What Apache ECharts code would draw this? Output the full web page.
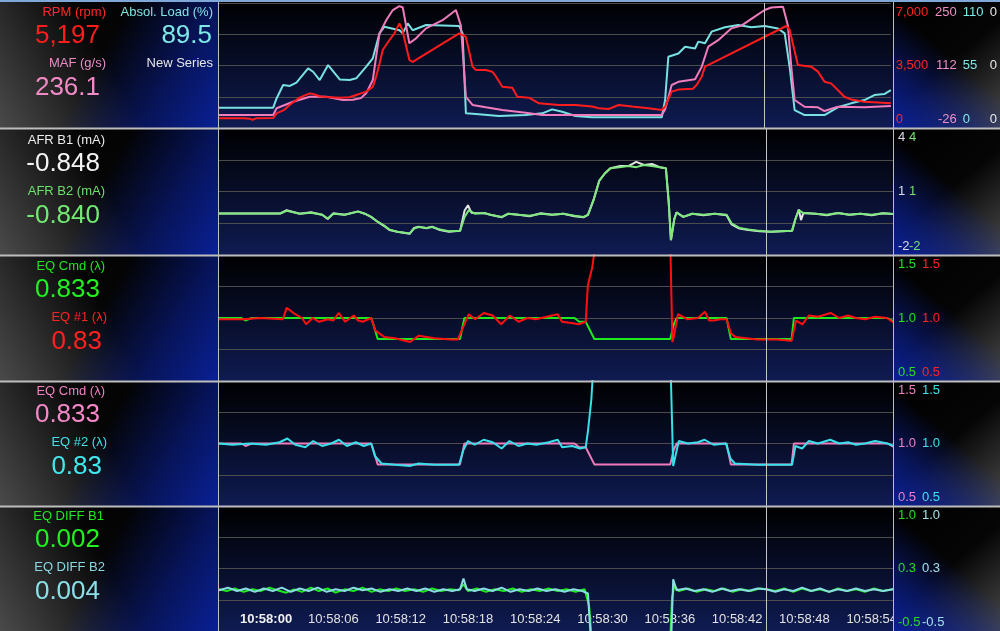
<!DOCTYPE html>
<html><head><meta charset="utf-8">
<script src="https://cdn.jsdelivr.net/npm/echarts@6/dist/echarts.min.js"></script>
<style>html,body{margin:0;padding:0;background:#000;}#c{width:1000px;height:631px;}</style>
</head><body><div id="c"></div>
<script>
// ---------------- DATA ----------------
const timeTicks = [0, 6, 12, 18, 24, 30, 36, 42, 48, 54];
const timeLabels = ['10:58:00','10:58:06','10:58:12','10:58:18','10:58:24','10:58:30','10:58:36','10:58:42','10:58:48','10:58:54'];
const cursorT = 44.56;

// Panel 1
const rpm = [[-4.2,540],[-2.0,545],[-1.43,520],[-1.2,450],[-0.9,540],[0.65,560],[0.95,820],[1.6,1000],[2.14,1300],[3.0,1700],[3.92,1940],[4.22,1900],[4.81,1780],[5.41,1740],[6.6,1700],[7.49,1720],[8.08,1850],[8.97,2035],[9.56,2300],[9.86,2875],[10.16,3600],[10.45,4368],[11.05,4928],[11.5,5300],[11.94,5861],[12.2,5500],[12.83,3808],[13.13,3700],[17.29,5301],[17.59,5200],[17.89,5100],[18.48,3435],[18.78,3248],[19.67,3248],[20.26,3150],[20.56,2900],[21.15,2315],[22.04,2250],[22.49,1752],[23.53,1700],[24.42,1381],[26.2,1288],[27.69,1288],[29.17,1200],[29.77,1101],[30.66,1064],[31.55,1288],[32.74,1200],[34.22,1100],[35.41,1008],[35.71,1200],[36.3,2035],[36.9,2150],[38.2,2200],[38.53,2408],[38.98,2875],[39.28,3435],[46.55,5712],[46.85,5500],[47.59,3528],[48.78,3435],[49.38,3155],[49.97,2595],[50.56,2500],[51.16,2128],[51.75,1752],[52.35,1600],[53.54,1475],[55.91,1381]];
const maf = [[-4.2,2.7],[0.65,2.7],[0.95,17.5],[2.43,32],[3.92,43],[5.41,43],[6.89,35.8],[7.78,36.5],[8.5,40],[8.97,50.6],[9.56,80],[10.16,183],[10.76,212],[11.35,234.5],[11.94,243],[12.24,240],[12.83,161],[13.43,172],[14.32,194],[15.8,212],[17.0,234.5],[17.44,200],[17.89,43],[18.48,24.8],[19.67,19.7],[21.15,13.7],[23.23,7.8],[24.72,2.5],[29.77,2.7],[35.41,2.7],[35.71,15],[36.3,69],[36.9,76],[38.39,81.5],[38.98,109],[39.57,153.5],[40.46,168],[41.65,194],[42.54,200],[43.73,220],[44.62,234.5],[45.21,240],[46.26,241.7],[46.7,200],[47.0,109],[47.3,35.8],[48.19,21],[49.38,19.7],[49.97,11.5],[51.16,21],[53.54,19.7],[55.91,22.6]];
const load = [[-4.2,17.9],[0.65,17.9],[0.95,26],[1.54,37.8],[2.14,37],[2.73,40],[3.77,52.5],[4.22,49.5],[4.81,42.2],[5.56,55.4],[6.6,42.7],[7.49,42.2],[8.08,43.7],[8.97,54],[9.56,61.3],[10.16,83.3],[10.6,89.1],[11.94,86],[12.24,83.3],[12.68,92.1],[13.13,86],[14.32,90.6],[17.29,89.7],[17.59,83.3],[17.89,12.9],[18.78,12.3],[20.86,10.6],[23.23,11.4],[24.72,12.9],[25.6,16.4],[26.5,14.3],[27.69,10.6],[29.17,9.4],[35.41,9.4],[35.71,24.6],[36.0,62.7],[36.9,65.6],[37.5,71.5],[38.39,70],[38.68,76],[39.28,74.5],[39.87,84.8],[41.06,88.7],[42.25,90.6],[43.43,88.7],[44.62,89.8],[45.81,87.6],[46.41,83.3],[46.85,53.9],[47.3,15.8],[48.19,11.4],[49.97,11.4],[51.16,18.2],[52.35,21.7],[53.54,24.6],[54.43,29],[55.32,29.9],[55.91,33.4]];

// Panel 2
const afrB1 = [[-4.2,-0.04],[1.25,-0.04],[1.83,0.12],[3.0,-0.05],[4.0,0.02],[5.0,-0.1],[5.5,-0.3],[6.0,-0.03],[7.0,-0.1],[8.2,0.06],[8.8,-0.05],[9.36,-0.2],[10.0,-0.45],[10.5,-0.62],[11.0,-0.82],[11.7,-0.9],[12.8,-1.0],[13.2,-0.72],[13.6,-0.66],[14.3,-0.74],[14.8,-0.66],[15.5,-0.82],[16.3,-0.9],[17.3,-0.86],[17.7,0.1],[18.0,0.35],[18.3,0.0],[18.6,-0.02],[19.5,-0.03],[20.0,-0.1],[21.0,-0.22],[21.6,-0.05],[22.5,-0.1],[23.5,-0.17],[24.5,-0.03],[25.5,-0.1],[26.5,-0.05],[27.5,-0.17],[28.3,-0.22],[28.7,-0.1],[29.2,0.6],[29.7,1.5],[30.2,1.85],[30.7,2.1],[31.5,2.2],[32.3,2.2],[33.0,2.4],[33.7,2.25],[34.4,2.3],[35.1,2.15],[35.65,2.1],[35.9,0.5],[36.1,-1.3],[36.4,-0.3],[36.6,0.02],[37.2,-0.2],[38,-0.05],[39,-0.12],[40,-0.05],[41.06,-0.12],[41.5,-0.55],[42.2,-0.75],[43,-0.82],[44,-0.88],[45,-0.9],[46.9,-0.86],[47.2,-0.3],[47.5,0.15],[47.7,-0.35],[47.9,-0.02],[49,-0.05],[50,-0.12],[51,-0.02],[52,-0.1],[53,-0.05],[54,-0.12],[55,-0.03],[55.9,-0.06]];
const afrB2 = [[-4.2,-0.04],[1.25,-0.04],[1.83,0.09],[3.0,-0.05],[4.0,0.0],[5.0,-0.1],[5.5,-0.28],[6.0,-0.05],[7.0,-0.1],[8.2,0.05],[8.8,-0.05],[9.36,-0.2],[10.0,-0.45],[10.5,-0.6],[11.0,-0.8],[11.7,-0.9],[12.8,-0.98],[13.2,-0.75],[13.6,-0.68],[14.3,-0.72],[14.8,-0.68],[15.5,-0.8],[16.3,-0.88],[17.3,-0.85],[17.7,-0.2],[18.07,0.12],[18.6,-0.05],[19.5,-0.02],[20.0,-0.1],[21.0,-0.2],[21.6,-0.05],[22.5,-0.1],[23.5,-0.15],[24.5,-0.05],[25.5,-0.1],[26.5,-0.05],[27.5,-0.15],[28.3,-0.2],[28.7,-0.1],[29.2,0.6],[29.7,1.5],[30.2,1.85],[30.7,2.1],[31.5,2.15],[32.3,2.2],[33.0,2.15],[33.7,2.25],[34.4,2.2],[35.1,2.15],[35.65,2.1],[35.9,0.5],[36.1,-1.3],[36.4,-0.3],[36.6,0.0],[37.2,-0.2],[38,-0.05],[39,-0.1],[40,-0.05],[41.06,-0.1],[41.5,-0.5],[42.2,-0.72],[43,-0.8],[44,-0.86],[45,-0.9],[46.9,-0.85],[47.2,-0.3],[47.5,0.12],[47.9,-0.02],[49,-0.05],[50,-0.1],[51,-0.02],[52,-0.1],[53,-0.05],[54,-0.1],[55,-0.03],[55.9,-0.06]];

// Panels 3 & 4
const eqCmd = [[-4.2,1.0],[-2.2,1.0],[-1.84,0.98],[-1.3,1.0],[9.37,1.0],[9.56,0.95],[9.95,0.833],[17.29,0.833],[17.68,1.0],[27.5,1.0],[27.92,0.97],[28.5,0.97],[29.27,0.833],[36.04,0.833],[36.35,0.95],[36.61,1.0],[41.06,1.0],[41.44,0.833],[46.86,0.833],[47.06,1.0],[55.4,1.0],[56,0.97]];
const eq1 = [[-4.2,0.99],[-2,0.99],[-0.5,1.0],[1.5,0.99],[1.83,1.08],[2.6,1.03],[3.2,1.0],[3.57,0.95],[4.15,1.0],[4.73,0.97],[5.5,0.99],[6.0,0.98],[6.47,1.04],[7.05,0.97],[7.82,1.02],[8.2,0.98],[8.6,0.97],[9.37,1.0],[9.75,0.9],[10.53,0.85],[11.5,0.84],[12.84,0.81],[13.62,0.86],[15,0.84],[16.5,0.83],[17.1,0.83],[17.68,0.95],[18.07,1.03],[18.64,0.99],[19.42,1.04],[20.2,1.02],[20.96,0.95],[21.74,1.02],[22.51,0.97],[23.3,1.0],[24.06,0.99],[25.99,1.03],[26.38,0.97],[27.2,0.96],[27.92,0.95],[28.5,0.97],[28.69,1.26],[29.08,1.4],[29.39,1.6],[29.6,2.2],[35.9,2.5],[36.04,1.6],[36.23,0.81],[36.35,0.85],[36.73,1.03],[37.58,0.99],[38.5,1.0],[39.13,1.05],[39.5,0.98],[39.9,0.98],[40.5,0.99],[41.06,0.99],[41.44,0.88],[41.84,0.85],[43.77,0.83],[45.5,0.83],[46.86,0.82],[47.25,0.98],[47.82,0.95],[48.4,1.02],[49.2,1.01],[50.34,1.04],[51.1,1.0],[51.88,1.02],[52.6,1.0],[53.43,0.99],[54.3,1.01],[55.37,1.0],[56,0.96]];
const eq2 = [[-4.2,1.0],[-3,0.99],[-1.5,1.0],[0,0.99],[1.2,1.01],[1.9,1.04],[2.6,0.99],[3.5,0.97],[4.2,1.02],[5.0,0.98],[5.8,1.0],[6.5,1.03],[7.2,0.98],[8.0,1.01],[8.7,0.98],[9.37,1.0],[9.7,0.9],[10.3,0.84],[11.5,0.83],[12.8,0.82],[13.6,0.84],[15,0.83],[16.5,0.83],[17.2,0.83],[17.6,0.95],[18.0,1.02],[18.6,0.99],[19.4,1.03],[20.2,1.01],[21.0,0.96],[21.7,1.02],[22.5,0.98],[23.3,1.0],[24.1,0.99],[25.2,1.01],[26.0,1.03],[26.4,0.97],[27.3,0.98],[28.0,0.96],[28.5,0.97],[28.7,1.1],[29.0,1.35],[29.3,1.8],[35.9,2.5],[36.1,1.5],[36.3,0.82],[36.5,0.9],[36.8,1.02],[37.6,1.0],[38.5,1.01],[39.1,1.03],[39.9,0.99],[41.0,1.0],[41.4,0.88],[41.8,0.84],[43.8,0.83],[45.5,0.83],[46.9,0.83],[47.2,0.98],[47.8,0.96],[48.4,1.02],[49.2,1.0],[50.3,1.03],[51.1,1.0],[51.9,1.01],[52.6,0.99],[53.4,1.0],[54.3,1.02],[55.4,1.0],[56,0.98]];

// Panel 5
const diffB1 = [[-4.2,0.0],[-3.5,-0.02],[-2.8,0.01],[-2,-0.03],[-1.2,0.0],[-0.5,-0.02],[0.3,0.02],[1.0,-0.01],[1.8,-0.04],[2.5,0.0],[3.2,-0.03],[4.0,0.02],[4.7,-0.02],[5.5,0.01],[6.2,-0.04],[7.0,0.0],[7.8,-0.02],[8.6,0.02],[9.4,-0.03],[10.1,0.0],[10.9,-0.02],[11.6,0.01],[12.4,-0.02],[13.2,0.0],[14.0,-0.03],[14.8,0.01],[15.6,-0.02],[16.4,0.0],[17.2,-0.01],[17.6,0.06],[18.0,-0.02],[18.8,0.01],[19.6,-0.03],[20.4,0.0],[21.2,-0.02],[22.0,0.01],[22.8,-0.03],[23.6,0.0],[24.4,-0.02],[25.2,0.01],[26.0,-0.02],[26.8,0.0],[27.6,-0.03],[28.4,0.0],[28.8,-0.2],[29.1,-0.7],[36.0,-0.7],[36.2,-0.1],[36.4,0.04],[36.8,-0.02],[37.6,0.01],[38.4,-0.03],[39.2,0.0],[40.0,-0.02],[40.8,0.01],[41.6,-0.03],[42.4,0.0],[43.2,-0.02],[44.0,0.01],[44.6,0.0],[45.4,-0.02],[46.2,0.01],[47.0,-0.03],[47.8,0.01],[48.6,-0.02],[49.4,0.0],[50.2,-0.03],[51.0,0.01],[51.8,-0.02],[52.6,0.0],[53.4,-0.03],[54.2,0.01],[55.0,-0.02],[55.9,0.0]];
const diffB2 = [[-4.2,-0.01],[-3.4,0.02],[-2.6,-0.02],[-1.8,0.01],[-1.0,-0.03],[-0.2,0.01],[0.6,-0.02],[1.4,0.02],[2.2,-0.03],[3.0,0.01],[3.8,-0.02],[4.6,0.02],[5.4,-0.03],[6.2,0.0],[7.0,-0.02],[7.8,0.02],[8.6,-0.01],[9.4,0.01],[10.2,-0.03],[11.0,0.0],[11.8,-0.02],[12.6,0.01],[13.4,-0.02],[14.2,0.01],[15.0,-0.03],[15.8,0.0],[16.6,-0.02],[17.3,0.0],[17.6,0.13],[17.9,0.0],[18.6,-0.02],[19.4,0.01],[20.2,-0.02],[21.0,0.02],[21.8,-0.03],[22.6,0.0],[23.4,-0.02],[24.2,0.01],[25.0,-0.02],[25.8,0.0],[26.6,-0.03],[27.4,0.0],[28.2,-0.02],[28.7,-0.05],[29.0,-0.7],[36.1,-0.7],[36.3,0.12],[36.6,-0.01],[37.4,0.01],[38.2,-0.02],[39.0,0.0],[39.8,-0.03],[40.6,0.01],[41.4,-0.02],[42.2,0.0],[43.0,-0.02],[43.8,0.01],[44.6,0.0],[45.4,-0.03],[46.2,0.0],[47.0,-0.02],[47.8,0.02],[48.6,-0.02],[49.4,0.01],[50.2,-0.03],[51.0,0.0],[51.8,-0.02],[52.6,0.01],[53.4,-0.02],[54.2,0.0],[55.0,-0.02],[55.9,0.0]];

// Axis tick labels (min, mid, max)
const rpmTicks = ['0','3,500','7,000'];
const mafTicks = ['-26','112','250'];
const loadTicks = ['0','55','110'];
const newSeriesTicks = ['0','0','0'];
const afrTicks = ['-2','1','4'];
const eqTicks = ['0.5','1.0','1.5'];
const diffTicks = ['-0.5','0.3','1.0'];

// Left readouts (name, current value)
const readoutNames = [['RPM (rpm)','MAF (g/s)','Absol. Load (%)','New Series'],['AFR B1 (mA)','AFR B2 (mA)'],['EQ Cmd (λ)','EQ #1 (λ)'],['EQ Cmd (λ)','EQ #2 (λ)'],['EQ DIFF B1','EQ DIFF B2']];
const readoutValues = [['5,197','236.1','89.5',''],['-0.848','-0.840'],['0.833','0.83'],['0.833','0.83'],['0.002','0.004']];

// ---------------- STYLE / LAYOUT ----------------
const FONT = '"Liberation Sans", Arial, sans-serif';
const C = {red:'#ff1c1c', pink:'#f07cbc', cyan:'#78e2e2', white:'#e8e8e8', lgreen:'#7ee87e', green:'#1ee81e', cyan2:'#38e0ea', cyan3:'#8adce4'};
const rows = [[3,128],[128,255],[255,381],[381,506],[506,631]];
const plotL = 219, plotR = 893, xMin = -4.2, xMax = 55.9;

const chart = echarts.init(document.getElementById('c'), null, {renderer:'canvas'});

const grids = rows.map(r => ({left:plotL, top:r[0], width:plotR-plotL, height:r[1]-r[0]}));
const xAxes = rows.map((r,i) => ({
  type:'value', gridIndex:i, min:xMin, max:xMax, show: i===4, z:0,
  axisLine:{show:false}, axisTick:{show:false}, splitLine:{show:false},
  axisLabel: i===4 ? {
    show:true, inside:true, margin:5, customValues: timeTicks, hideOverlap:false,
    color:'#e2e2e2', fontSize:13, fontFamily:FONT,
    formatter: v => { const k = timeTicks.indexOf(Math.round(v)); return k === 0 ? '{b|' + timeLabels[k] + '}' : (k >= 0 ? timeLabels[k] : ''); },
    rich:{b:{fontWeight:'bold', color:'#f0f0f0', fontSize:13, fontFamily:FONT}}
  } : {show:false}
}));

const yAxes = [];
function splitAxis(g){
  yAxes.push({type:'value', gridIndex:g, min:0, max:4, interval:1, position:'left',
    axisLine:{show:false}, axisTick:{show:false}, axisLabel:{show:false},
    splitLine:{show:true, lineStyle:{color:'#4c4c4c', width:1}}});
  return yAxes.length-1;
}
function labelAxis(g, min, max, labels, color, margin, align){
  const interval = (max-min)/2;
  yAxes.push({type:'value', gridIndex:g, min:min, max:max, interval:interval, position:'right', offset:0, z:10,
    axisLine:{show:false}, axisTick:{show:false}, splitLine:{show:false},
    axisLabel:{show:true, color:color, fontSize:13, fontFamily:FONT, margin:margin, align:align||'left',
      lineHeight:18, verticalAlignMinLabel:'bottom', verticalAlignMaxLabel:'top', showMinLabel:true, showMaxLabel:true,
      formatter:(v)=> labels[Math.round((v-min)/interval)] ?? ''}});
  return yAxes.length-1;
}
const series = [];
function line(g, yi, data, color, withCursor){
  const s = {type:'line', xAxisIndex:g, yAxisIndex:yi, data:data, symbol:'none', showSymbol:false,
    lineStyle:{color:color, width:2}, clip:true, z:3, animation:false, silent:true};
  if (withCursor) s.markLine = {silent:true, symbol:'none', label:{show:false}, animation:false,
    lineStyle:{color:'#c4c4c4', width:1, type:'solid'}, data:[{xAxis:cursorT}]};
  series.push(s);
}

// Row 1
splitAxis(0);
const aR = labelAxis(0, 0, 7000, rpmTicks, '#ff2424', 5);
const aM = labelAxis(0, -26, 250, mafTicks, '#f08ec6', 66, 'right');
const aL = labelAxis(0, 0, 110, loadTicks, '#82e6e6', 72);
labelAxis(0, 0, 1, newSeriesTicks, '#e8e8e8', 99);
line(0, aL, load, C.cyan, true);
line(0, aM, maf, C.pink, false);
line(0, aR, rpm, C.red, false);
// Row 2
splitAxis(1);
const a21 = labelAxis(1, -2, 4, afrTicks, '#dcdcec', 5);
const a22 = labelAxis(1, -2, 4, afrTicks, '#72e072', 16);
line(1, a21, afrB1, '#e4e4e4', true);
line(1, a22, afrB2, C.lgreen, false);
// Row 3
splitAxis(2);
const a31 = labelAxis(2, 0.5, 1.5, eqTicks, '#22e022', 5);
const a32 = labelAxis(2, 0.5, 1.5, eqTicks, '#ff2424', 29);
line(2, a31, eqCmd, C.green, true);
line(2, a32, eq1, '#ff1010', false);
// Row 4
splitAxis(3);
const a41 = labelAxis(3, 0.5, 1.5, eqTicks, '#f080c0', 5);
const a42 = labelAxis(3, 0.5, 1.5, eqTicks, '#3ee0ea', 29);
line(3, a41, eqCmd, C.pink, true);
line(3, a42, eq2, C.cyan2, false);
// Row 5
splitAxis(4);
const a51 = labelAxis(4, -0.5, 1.0, diffTicks, '#22e022', 5);
const a52 = labelAxis(4, -0.5, 1.0, diffTicks, '#a4e2ea', 29);
line(4, a51, diffB1, C.green, true);
line(4, a52, diffB2, C.cyan3, false);

// ---------------- CHROME (backgrounds, separators, readouts) ----------------
const G = echarts.graphic;
const elements = [];
const grayStops = [{offset:0,color:'#4a4a4a'},{offset:0.22,color:'#2c2c2c'},{offset:0.5,color:'#050505'},{offset:1,color:'#000000'}];
const blueStops = [{offset:0,color:'rgba(10,32,150,1)'},{offset:0.25,color:'rgba(10,32,150,0.6)'},{offset:0.55,color:'rgba(10,32,150,0)'},{offset:1,color:'rgba(10,32,150,0)'}];
rows.forEach((r,i) => {
  const top = i===0 ? 0 : r[0], h = r[1]-top;
  elements.push({type:'rect', z:-10, shape:{x:0,y:top,width:218,height:h}, style:{fill:new G.LinearGradient(0,1,1,0,grayStops)}});
  elements.push({type:'rect', z:-9, shape:{x:0,y:top,width:218,height:h}, style:{fill:new G.LinearGradient(1,1,0,0,blueStops)}});
  elements.push({type:'rect', z:-10, shape:{x:plotL,y:top,width:plotR-plotL,height:h}, style:{fill:new G.LinearGradient(0,0,0,1,[{offset:0,color:'#000000'},{offset:1,color:'#0f1b52'}])}});
  elements.push({type:'rect', z:5, shape:{x:894,y:top,width:106,height:h}, style:{fill:new G.LinearGradient(1,1,0,0,grayStops)}});
  elements.push({type:'rect', z:6, shape:{x:894,y:top,width:106,height:h}, style:{fill:new G.LinearGradient(0,1,1,0,blueStops)}});
});
[128,255,381,506].forEach(y => elements.push({type:'line', z:20, shape:{x1:0,y1:y+0.5,x2:1000,y2:y+0.5}, style:{stroke:'#bdbdbd', lineWidth:2}}));
elements.push({type:'line', z:20, shape:{x1:218.5,y1:0,x2:218.5,y2:631}, style:{stroke:'#bdbdbd', lineWidth:1}});
elements.push({type:'line', z:20, shape:{x1:893.5,y1:0,x2:893.5,y2:631}, style:{stroke:'#bdbdbd', lineWidth:1}});
elements.push({type:'rect', z:20, shape:{x:0,y:0,width:1000,height:2}, style:{fill:'#7fa8d8'}});

// readout layout
const rowTopText = [1,129,255,380,505];
const nameColors = [['#ff2a2a','#e88cc6','#82e2e2','#e6e6e6'],['#ececec','#6ee06e'],['#22e422','#ff2222'],['#f080c0','#40e0ea'],['#22e822','#8ad8e2']];
const valColors  = [['#ff1c1c','#f28ac8','#7ee8e8',''],['#f4f4f4','#72ea72'],['#22f022','#ff2020'],['#f488c8','#40e8f0'],['#22f022','#8ae0e8']];
const nameRight = [[106,106,213,213],[105,105],[105,107],[105,107],[104,105]];
const valRight  = [[100,100,212,0],[100,100],[100,102],[100,102],[100,100]];
readoutNames.forEach((names,r) => {
  names.forEach((nm,k) => {
    const slot = k % 2;
    const T = rowTopText[r];
    elements.push({type:'text', z:30, style:{text:nm, x:nameRight[r][k], y:T+(slot?62:11), fill:nameColors[r][k], font:'13px ' + FONT, textAlign:'right', textVerticalAlign:'middle'}});
    const v = readoutValues[r][k];
    if (v) elements.push({type:'text', z:30, style:{text:v, x:valRight[r][k], y:T+(slot?87:35), fill:valColors[r][k], font:'26px ' + FONT, textAlign:'right', textVerticalAlign:'middle'}});
  });
});

chart.setOption({
  animation:false,
  backgroundColor:'#000000',
  grid: grids, xAxis: xAxes, yAxis: yAxes, series: series,
  graphic: {elements: elements}
});
</script></body></html>
